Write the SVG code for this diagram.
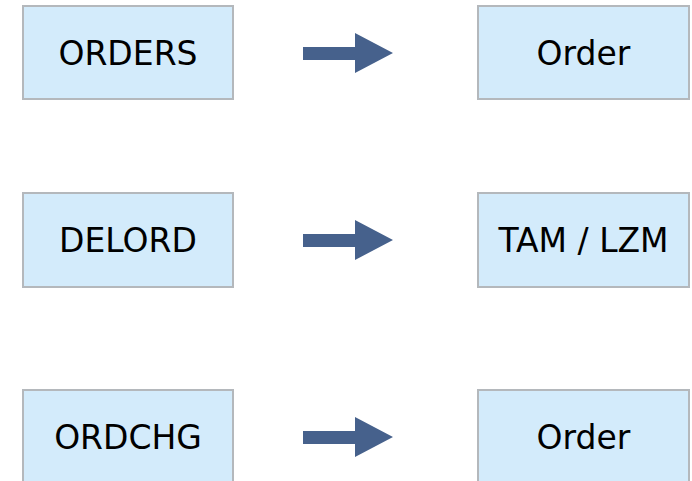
<svg xmlns="http://www.w3.org/2000/svg" width="692" height="481" viewBox="0 0 692 481">
<style>
.box{fill:#d3ebfb;stroke:#b4b8bc;stroke-width:2}
.t{font-family:"DejaVu Sans",Verdana,sans-serif;font-size:33px;fill:#000;text-anchor:middle}
.arr{fill:#46618c}
</style>
<rect width="692" height="481" fill="#fff"/>
<g id="orders"><rect class="box" x="23" y="6" width="210" height="93"/><text class="t" x="128" y="65">ORDERS</text></g>
<g id="order1"><rect class="box" x="478" y="6" width="211" height="93"/><text class="t" x="583.5" y="65">Order</text></g>
<g id="delord"><rect class="box" x="23" y="193" width="210" height="94"/><text class="t" x="128" y="252">DELORD</text></g>
<g id="tamlzm"><rect class="box" x="478" y="193" width="211" height="94"/><text class="t" x="583.5" y="252">TAM / LZM</text></g>
<g id="ordchg"><rect class="box" x="23" y="390" width="210" height="94"/><text class="t" x="128" y="449">ORDCHG</text></g>
<g id="order2"><rect class="box" x="478" y="390" width="211" height="94"/><text class="t" x="583.5" y="449">Order</text></g>
<g id="connectors">
<polygon class="arr" points="303,47 355,47 355,33 393,53 355,73 355,60 303,60"/>
<polygon class="arr" points="303,234 355,234 355,220 393,240 355,260 355,247 303,247"/>
<polygon class="arr" points="303,431 355,431 355,417 393,437 355,457 355,444 303,444"/>
</g>
</svg>
